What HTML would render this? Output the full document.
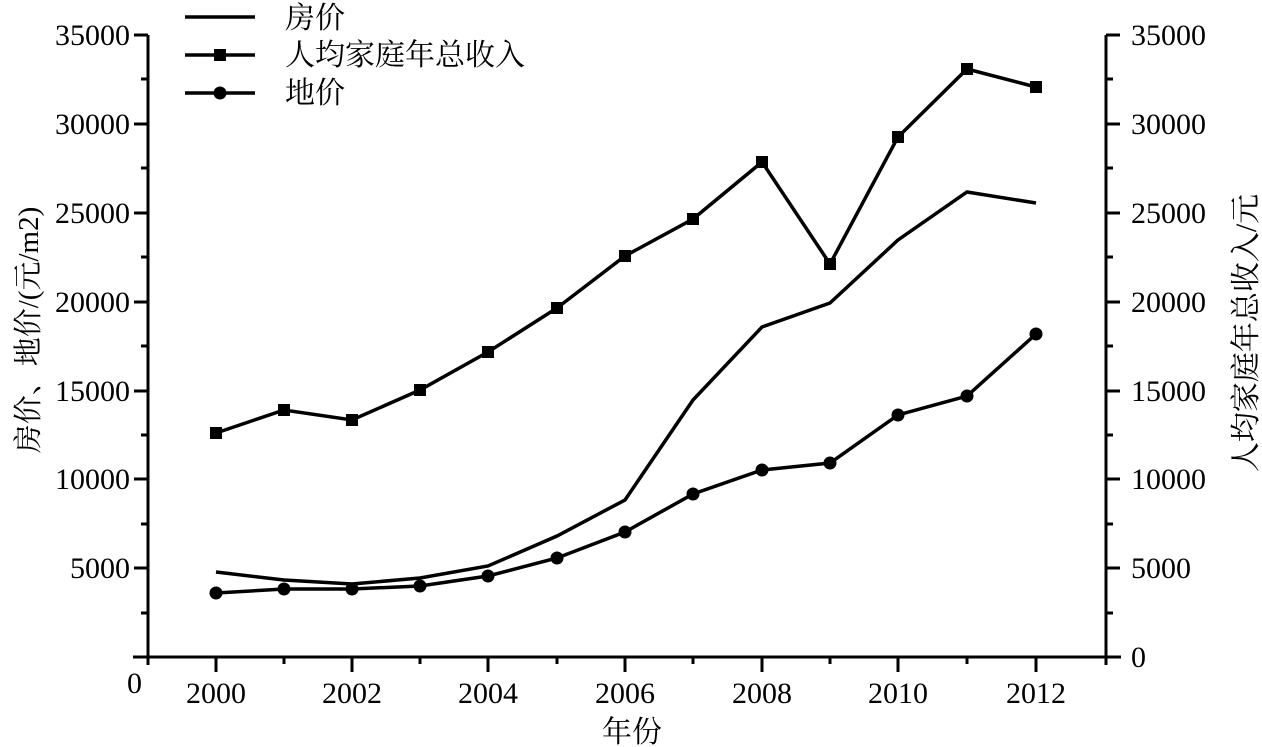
<!DOCTYPE html>
<html><head><meta charset="utf-8"><style>
html,body{margin:0;padding:0;background:#fff;}
svg{display:block;font-family:"Liberation Serif","Noto Serif CJK SC","Noto Sans CJK SC",serif;}
</style></head><body>
<svg width="1262" height="747" viewBox="0 0 1262 747" xmlns="http://www.w3.org/2000/svg">
<g stroke="#000" stroke-width="3" fill="none">
<line x1="148" y1="35" x2="148" y2="665"/>
<line x1="1106" y1="35" x2="1106" y2="665"/>
<line x1="133" y1="657" x2="1121" y2="657"/>
<path d="M134 35H148M134 124H148M134 213H148M134 302H148M134 391H148M134 479H148M134 568H148M134 657H148
M141 79H148M141 168H148M141 257H148M141 346H148M141 435H148M141 524H148M141 613H148"/>
<path d="M1106 35H1120M1106 124H1120M1106 213H1120M1106 302H1120M1106 391H1120M1106 479H1120M1106 568H1120M1106 657H1120
M1106 79H1113M1106 168H1113M1106 257H1113M1106 346H1113M1106 435H1113M1106 524H1113M1106 613H1113"/>
<path d="M216 657V672M352 657V672M488 657V672M625 657V672M762 657V672M898 657V672M1036 657V672
M284 657V664M420 657V664M557 657V664M693 657V664M830 657V664M967 657V664"/>
<polyline stroke-width="3.5" points="216,433 284,410 352,420 420,390 488,352 557,308 625,256 693,219 762,162 830,264 898,137 967,69 1036,87"/>
<polyline stroke-width="3.5" points="216,572 284,580 352,584 420,578 488,566 557,536 625,500 693,400 762,327 830,303 898,240 967,192 1036,203"/>
<polyline stroke-width="3.5" points="216,593 284,589 352,589 420,586 488,576 557,558 625,532 693,494 762,470 830,463 898,415 967,396 1036,334"/>
<line x1="185" y1="17" x2="255" y2="17" stroke-width="3.5"/>
<line x1="185" y1="55" x2="255" y2="55" stroke-width="3.5"/>
<line x1="185" y1="93" x2="255" y2="93" stroke-width="3.5"/>
</g>
<g fill="#000">
<path d="M210 427h12v12h-12zM278 404h12v12h-12zM346 414h12v12h-12zM414 384h12v12h-12zM482 346h12v12h-12zM551 302h12v12h-12zM619 250h12v12h-12zM687 213h12v12h-12zM756 156h12v12h-12zM824 258h12v12h-12zM892 131h12v12h-12zM961 63h12v12h-12zM1030 81h12v12h-12zM214 49h12v12h-12z"/>
<circle cx="216" cy="593" r="6.5"/><circle cx="284" cy="589" r="6.5"/><circle cx="352" cy="589" r="6.5"/><circle cx="420" cy="586" r="6.5"/><circle cx="488" cy="576" r="6.5"/><circle cx="557" cy="558" r="6.5"/><circle cx="625" cy="532" r="6.5"/><circle cx="693" cy="494" r="6.5"/><circle cx="762" cy="470" r="6.5"/><circle cx="830" cy="463" r="6.5"/><circle cx="898" cy="415" r="6.5"/><circle cx="967" cy="396" r="6.5"/><circle cx="1036" cy="334" r="6.5"/><circle cx="220" cy="93" r="6.5"/>
</g>
<g font-size="30" fill="#000">
<g text-anchor="end">
<text x="130" y="45">35000</text><text x="130" y="134">30000</text><text x="130" y="223">25000</text><text x="130" y="312">20000</text><text x="130" y="401">15000</text><text x="130" y="489">10000</text><text x="130" y="578">5000</text>
</g>
<text x="127" y="693">0</text>
<g>
<text x="1131" y="45">35000</text><text x="1131" y="134">30000</text><text x="1131" y="223">25000</text><text x="1131" y="312">20000</text><text x="1131" y="401">15000</text><text x="1131" y="489">10000</text><text x="1131" y="578">5000</text><text x="1131" y="667">0</text>
</g>
<g text-anchor="middle">
<text x="216" y="703">2000</text><text x="352" y="703">2002</text><text x="488" y="703">2004</text><text x="625" y="703">2006</text><text x="762" y="703">2008</text><text x="898" y="703">2010</text><text x="1036" y="703">2012</text>
<text x="632" y="742">年份</text>
</g>
<text x="285" y="28">房价</text>
<text x="285" y="65">人均家庭年总收入</text>
<text x="285" y="103">地价</text>
<text transform="translate(38,330) rotate(-90)" text-anchor="middle" font-size="29">房价、地价/(元/m2)</text>
<text transform="translate(1256,333) rotate(-90)" text-anchor="middle">人均家庭年总收入/元</text>
</g>
</svg>
</body></html>
